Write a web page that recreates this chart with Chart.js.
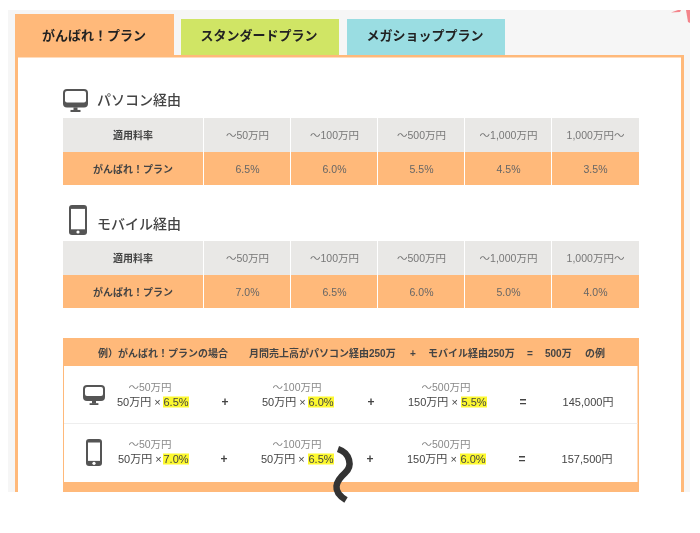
<!DOCTYPE html>
<html>
<head>
<meta charset="utf-8">
<script src="https://cdn.jsdelivr.net/npm/chart.js@4"></script>
<style>
  html, body { margin: 0; padding: 0; background: #fff; }
  canvas { display: block; }
</style>
</head>
<body>
<canvas id="chart" width="700" height="533"></canvas>
<script>
// table data
const planName = 'がんばれ\uFF01プラン';
const tabs = [planName, 'スタンダードプラン', 'メガショッププラン'];
const tiers = ['〜50万円', '〜100万円', '〜500万円', '〜1,000万円', '1,000万円〜'];
const pcRates = [6.5, 6.0, 5.5, 4.5, 3.5];
const mobileRates = [7.0, 6.5, 6.0, 5.0, 4.0];
const pcTitle = 'パソコン経由';
const mobileTitle = 'モバイル経由';
const rowHead = '適用料率';

// worked example
const exampleTiers = ['〜50万円', '〜100万円', '〜500万円'];
const exampleAmounts = ['50万円', '50万円', '150万円'];
const pcExampleRates = [6.5, 6.0, 5.5];
const mobileExampleRates = [7.0, 6.5, 6.0];
const pcTotal = '145,000円';
const mobileTotal = '157,500円';
const exampleHead = ['例\uFF09' + planName + 'の場合', '月間売上高がパソコン経由250万', '+', 'モバイル経由250万', '=', '500万', 'の例'];

const ORANGE = '#ffb97a';
const FONT = '"Liberation Sans", "Noto Sans CJK JP", sans-serif';

function text(ctx, str, x, y, size, weight, color, align) {
  ctx.font = weight + ' ' + size + 'px ' + FONT;
  ctx.fillStyle = color;
  ctx.textAlign = align || 'center';
  ctx.textBaseline = 'middle';
  ctx.fillText(str, x, y + 1);
}

function roundRect(ctx, x, y, w, h, r, color) {
  ctx.fillStyle = color;
  ctx.beginPath();
  ctx.roundRect(x, y, w, h, r);
  ctx.fill();
}

function monitor(ctx, x, y, w, h) {
  const c = '#555';
  const bodyH = h * 0.8;
  roundRect(ctx, x, y, w, bodyH, 4, c);
  roundRect(ctx, x + 2, y + 2, w - 4, bodyH - 7, 2, '#fff');
  ctx.fillStyle = c;
  ctx.fillRect(x + w / 2 - 2, y + bodyH, 4, h * 0.13);
  ctx.fillRect(x + w / 2 - w * 0.2, y + h * 0.91, w * 0.4, h * 0.09);
}

function phone(ctx, x, y, w, h) {
  const c = '#555';
  roundRect(ctx, x, y, w, h, 3, c);
  ctx.fillStyle = '#fff';
  ctx.fillRect(x + 2, y + h * 0.13, w - 4, h * 0.68);
  ctx.beginPath();
  ctx.arc(x + w / 2, y + h * 0.9, 1.6, 0, Math.PI * 2);
  ctx.fill();
}

function rateTable(ctx, x, top, rates) {
  const xs = x.ticks.map((t, i) => x.getPixelForValue(i));
  const half = (xs[1] - xs[0]) / 2;
  ctx.fillStyle = '#e9e8e6';
  ctx.fillRect(63, top, 576, 34);
  ctx.fillStyle = ORANGE;
  ctx.fillRect(63, top + 34, 576, 33);
  ctx.fillStyle = '#fff';
  ctx.fillRect(203, top, 1, 67);
  xs.slice(0, -1).forEach((cx) => ctx.fillRect(Math.round(cx + half) - 1, top, 1, 67));
  text(ctx, rowHead, 133, top + 17, 10, 'bold', '#444');
  text(ctx, planName, 133, top + 51, 10, 'bold', '#444');
  xs.forEach((cx, i) => {
    text(ctx, tiers[i], cx, top + 17, 10.5, 'normal', '#777');
    text(ctx, rates[i].toFixed(1) + '%', cx, top + 51, 10.5, 'normal', '#666');
  });
}

function exampleRow(ctx, labelY, rates, lefts, marks, plusX, equalX, total, totalX) {
  const mainY = labelY + 15;
  const labelX = [150, 297, 446];
  rates.forEach((r, i) => {
    text(ctx, exampleTiers[i], labelX[i], labelY, 10.5, 'normal', '#888');
    text(ctx, exampleAmounts[i] + ' × ', lefts[i], mainY, 11, 'normal', '#444', 'left');
    ctx.fillStyle = '#fdf92f';
    ctx.fillRect(marks[i], mainY - 5.5, 26, 11);
    text(ctx, r.toFixed(1) + '%', marks[i] + 13, mainY, 11, 'normal', '#444');
  });
  plusX.forEach((px) => text(ctx, '+', px, mainY, 12, 'bold', '#444'));
  text(ctx, '=', equalX, mainY, 12, 'bold', '#444');
  text(ctx, total, totalX, mainY, 11, 'normal', '#444');
}

const tablePlugin = {
  id: 'tablePlugin',
  beforeDatasetsDraw(chart) {
    const ctx = chart.ctx;
    const x = chart.scales.x;
    ctx.save();

    // page panel
    ctx.fillStyle = '#fff';
    ctx.fillRect(0, 0, 700, 533);
    ctx.fillStyle = '#f6f6f6';
    ctx.fillRect(8, 10, 682, 482);

    // pink corner
    ctx.fillStyle = '#f4848b';
    ctx.beginPath();
    ctx.moveTo(671, 12.5);
    ctx.lineTo(678, 10);
    ctx.lineTo(681, 10);
    ctx.lineTo(680, 12);
    ctx.closePath();
    ctx.fill();
    ctx.beginPath();
    ctx.moveTo(686, 10);
    ctx.lineTo(690, 10);
    ctx.lineTo(690, 23);
    ctx.lineTo(688, 22);
    ctx.closePath();
    ctx.fill();

    // tabs and frame
    ctx.fillStyle = ORANGE;
    ctx.fillRect(15, 14, 159, 43);
    ctx.fillStyle = '#d0e565';
    ctx.fillRect(181, 19, 158, 36);
    ctx.fillStyle = '#9adde2';
    ctx.fillRect(347, 19, 158, 36);
    ctx.fillStyle = ORANGE;
    ctx.fillRect(15, 55, 669, 437);
    ctx.fillStyle = '#fff';
    ctx.fillRect(18, 57.5, 663, 434.5);
    text(ctx, tabs[0], 94, 35, 13, 'bold', '#222');
    text(ctx, tabs[1], 259, 35, 13, 'bold', '#222');
    text(ctx, tabs[2], 425, 35, 13, 'bold', '#222');

    // rate tables
    monitor(ctx, 63, 89, 25, 23);
    text(ctx, pcTitle, 97, 100, 14, '500', '#444', 'left');
    rateTable(ctx, x, 118, pcRates);
    phone(ctx, 69, 205, 18, 30);
    text(ctx, mobileTitle, 97, 224, 14, '500', '#444', 'left');
    rateTable(ctx, x, 241, mobileRates);

    // example box
    ctx.fillStyle = ORANGE;
    ctx.fillRect(63, 338, 576, 154);
    ctx.fillStyle = '#fff';
    ctx.fillRect(64, 366, 573.5, 116);
    ctx.fillStyle = '#eeeeee';
    ctx.fillRect(64, 423, 573.5, 1);
    const headX = [98, 249, 413, 428, 530, 545, 585];
    exampleHead.forEach((s, i) => {
      const sym = s === '+' || s === '=';
      text(ctx, s, headX[i], 353, 10, 'bold', '#444', sym ? 'center' : 'left');
    });
    monitor(ctx, 83, 385, 22, 20);
    exampleRow(ctx, 387, pcExampleRates, [117, 262, 408], [163, 308, 461], [225, 371], 523, pcTotal, 588);
    phone(ctx, 86, 439, 16, 27);
    exampleRow(ctx, 444, mobileExampleRates, [118, 261, 407], [163, 308, 460], [224, 370], 522, mobileTotal, 587);

    // squiggle
    ctx.strokeStyle = '#333';
    ctx.lineWidth = 6.5;
    ctx.beginPath();
    ctx.moveTo(338, 449);
    ctx.bezierCurveTo(350, 453, 353, 466, 345, 473);
    ctx.bezierCurveTo(336, 481, 331, 491, 346, 500);
    ctx.stroke();

    ctx.restore();
  }
};

new Chart(document.getElementById('chart'), {
  type: 'bar',
  data: {
    labels: tiers,
    datasets: [
      { label: pcTitle, data: pcRates, backgroundColor: 'transparent' },
      { label: mobileTitle, data: mobileRates, backgroundColor: 'transparent' }
    ]
  },
  options: {
    responsive: false,
    animation: false,
    layout: { padding: { left: 204, right: 61, top: 0, bottom: 0 } },
    plugins: { legend: { display: false }, tooltip: { enabled: false } },
    scales: {
      x: { display: false },
      y: { display: false, min: 0, max: 10 }
    }
  },
  plugins: [tablePlugin]
});
</script>
</body>
</html>
